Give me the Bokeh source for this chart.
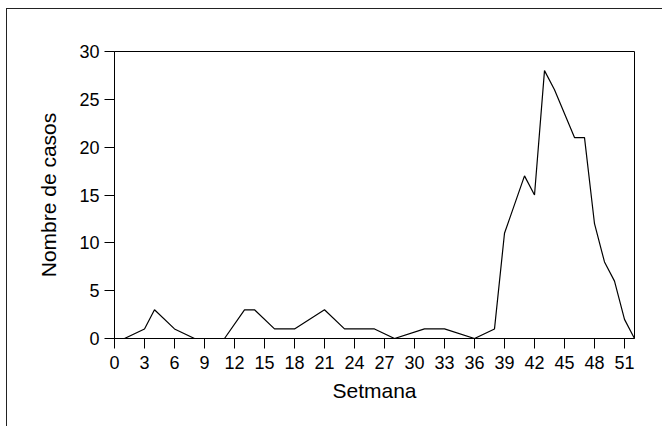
from bokeh.plotting import figure
from bokeh.models import Range1d, FixedTicker
from bokeh.embed import file_html
from bokeh.resources import INLINE

weeks = [1, 3, 4, 6, 8, 11, 13, 14, 16, 18, 21, 23, 26, 28, 31, 33, 36, 38,
         39, 41, 42, 43, 44, 46, 47, 48, 49, 50, 51, 52]
cases = [0, 1, 3, 1, 0, 0, 3, 3, 1, 1, 3, 1, 1, 0, 1, 1, 0, 1,
         11, 17, 15, 28, 26, 21, 21, 12, 8, 6, 2, 0]
x_ticks = list(range(0, 52, 3))
y_ticks = [0, 5, 10, 15, 20, 25, 30]
x_title = "Setmana"
y_title = "Nombre de casos"

FONT = "Liberation Sans"

p = figure(frame_width=520, frame_height=287,
           min_border_left=107, min_border_right=28,
           min_border_top=42, min_border_bottom=88,
           output_backend="svg", toolbar_location=None,
           x_range=Range1d(0, 52), y_range=Range1d(0, 30),
           styles={"border-left": "1px solid #222", "border-top": "1px solid #222",
                   "margin-left": "6px", "margin-top": "8px"})

p.line(weeks, cases, line_color="black", line_width=1.2)

p.xgrid.visible = False
p.ygrid.visible = False
p.outline_line_color = "black"
p.outline_line_width = 1
p.outline_line_alpha = 1
p.background_fill_color = "white"
p.border_fill_color = "white"

for ax in (p.xaxis[0], p.yaxis[0]):
    ax.axis_line_color = "black"
    ax.major_tick_line_color = "black"
    ax.minor_tick_line_color = None
    ax.major_tick_in = 0
    ax.major_tick_out = 10
    ax.major_label_text_font = FONT
    ax.major_label_text_font_size = "18px"
    ax.major_label_text_color = "black"
    ax.major_label_standoff = 5
    ax.axis_label_text_font = FONT
    ax.axis_label_text_font_size = "21px"
    ax.axis_label_text_font_style = "normal"
    ax.axis_label_text_color = "black"

p.xaxis[0].ticker = FixedTicker(ticks=x_ticks)
p.yaxis[0].ticker = FixedTicker(ticks=y_ticks)
p.xaxis[0].axis_label = x_title
p.yaxis[0].axis_label = y_title
p.xaxis[0].major_label_standoff = 7
p.xaxis[0].axis_label_standoff = 7
p.yaxis[0].axis_label_standoff = 16

open("out.html", "w").write(file_html(p, INLINE))
